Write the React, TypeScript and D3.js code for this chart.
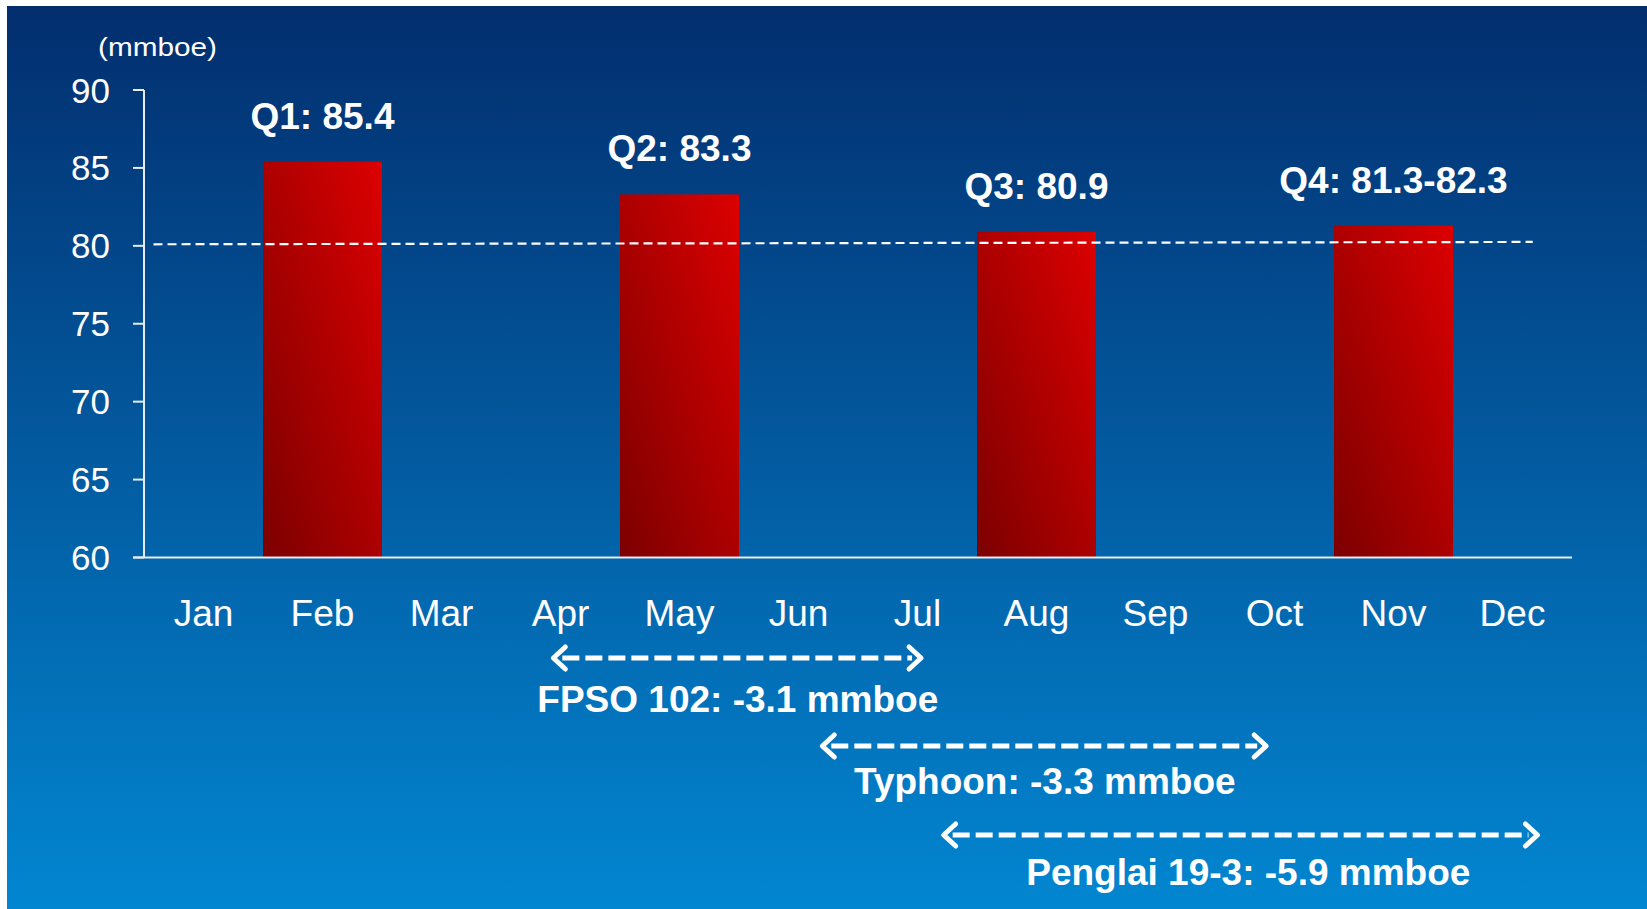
import React from 'react';
import * as d3 from 'd3';

const months = ['Jan', 'Feb', 'Mar', 'Apr', 'May', 'Jun', 'Jul', 'Aug', 'Sep', 'Oct', 'Nov', 'Dec'];
const barMonths = ['Feb', 'May', 'Aug', 'Nov'];
const barValues = [85.4, 83.3, 80.9, 81.3];
const barLabels = ['Q1: 85.4', 'Q2: 83.3', 'Q3: 80.9', 'Q4: 81.3-82.3'];
const yTicks = [60, 65, 70, 75, 80, 85, 90];
const unitLabel = '(mmboe)';

// reference dashed line (value at start, value at end; position in month units)
const refValues = [80.1, 80.25];
const refSpan = [0.08, 11.67];

// impact arrows (month units along the x axis)
const impactLabels = ['FPSO 102: -3.1 mmboe', 'Typhoon: -3.3 mmboe', 'Penglai 19-3: -5.9 mmboe'];
const impactStart = [3.44, 5.7, 6.72];
const impactEnd = [6.53, 9.43, 11.71];
const impactTextCenter = [4.99, 7.57, 9.28];

const W = 1647;
const H = 909;
const plotLeft = 144;
const plotRight = 1572;
const plotTop = 90;
const plotBottom = 557.5;
const arrowRows = [658, 746, 835];
const textRows = [712, 794, 885];
const FONT = '"Liberation Sans", Arial, Helvetica, sans-serif';

export default function App() {
  const x = d3.scaleBand<string>().domain(months).range([plotLeft, plotRight]).padding(0);
  const u = d3.scaleLinear().domain([0, 12]).range([plotLeft, plotRight]);
  const y = d3.scaleLinear().domain([60, 90]).range([plotBottom, plotTop]);
  const axisColor = '#E6ECF3';

  return (
    <svg
      width={W}
      height={H}
      style={{ position: 'absolute', left: 0, top: 0, display: 'block' }}
      fontFamily={FONT}
    >
      <defs>
        <linearGradient id="bg" x1="0" y1="0" x2="0" y2="1">
          <stop offset="0" stopColor="#022E6E" />
          <stop offset="0.45" stopColor="#03569B" />
          <stop offset="1" stopColor="#0286D1" />
        </linearGradient>
        <linearGradient id="barGrad" x1="0" y1="1" x2="1" y2="0">
          <stop offset="0" stopColor="#7C0000" />
          <stop offset="1" stopColor="#DD0000" />
        </linearGradient>
      </defs>
      <rect x={0} y={0} width={W} height={H} fill="#ffffff" />
      <rect x={7} y={6} width={W - 7} height={H - 6} fill="url(#bg)" />

      {/* bars */}
      {barMonths.map((m, i) => (
        <rect
          key={m}
          x={x(m)}
          y={y(barValues[i])}
          width={x.bandwidth()}
          height={plotBottom - y(barValues[i])}
          fill="url(#barGrad)"
        />
      ))}

      {/* reference dashed line */}
      <line
        x1={u(refSpan[0])}
        x2={u(refSpan[1])}
        y1={y(refValues[0])}
        y2={y(refValues[1])}
        stroke="#ffffff"
        strokeWidth={2.2}
        strokeDasharray="9 5"
      />

      {/* axes */}
      <line x1={plotLeft} x2={plotLeft} y1={plotTop} y2={plotBottom} stroke={axisColor} strokeWidth={2} />
      <line x1={plotLeft - 11} x2={plotRight} y1={plotBottom} y2={plotBottom} stroke={axisColor} strokeWidth={2} />
      {yTicks.map((t) => (
        <g key={t}>
          <line x1={plotLeft - 11} x2={plotLeft} y1={y(t)} y2={y(t)} stroke={axisColor} strokeWidth={2} />
          <text x={plotLeft - 34} y={y(t) + 12.5} fill="#ffffff" fontSize={35} textAnchor="end">
            {t}
          </text>
        </g>
      ))}
      {months.map((m) => (
        <text
          key={m}
          x={(x(m) as number) + x.bandwidth() / 2}
          y={626}
          fill="#ffffff"
          fontSize={37}
          textAnchor="middle"
        >
          {m}
        </text>
      ))}
      <text x={98} y={56} fill="#ffffff" fontSize={25} textLength={119} lengthAdjust="spacingAndGlyphs">
        {unitLabel}
      </text>

      {/* bar labels */}
      {barMonths.map((m, i) => (
        <text
          key={m}
          x={(x(m) as number) + x.bandwidth() / 2}
          y={y(barValues[i]) - 33}
          fill="#ffffff"
          fontSize={37}
          fontWeight="bold"
          textAnchor="middle"
        >
          {barLabels[i]}
        </text>
      ))}

      {/* impact arrows */}
      {impactLabels.map((lab, i) => {
        const x1 = u(impactStart[i]);
        const x2 = u(impactEnd[i]);
        const ay = arrowRows[i];
        return (
          <g key={lab}>
            <line
              x1={x1 + 9}
              x2={x2 - 9}
              y1={ay}
              y2={ay}
              stroke="#ffffff"
              strokeWidth={5}
              strokeDasharray="17 6"
            />
            <path
              d={`M${x1 + 12},${ay - 11} L${x1},${ay} L${x1 + 12},${ay + 11}`}
              fill="none"
              stroke="#ffffff"
              strokeWidth={5}
              strokeLinecap="round"
              strokeLinejoin="round"
            />
            <path
              d={`M${x2 - 12},${ay - 11} L${x2},${ay} L${x2 - 12},${ay + 11}`}
              fill="none"
              stroke="#ffffff"
              strokeWidth={5}
              strokeLinecap="round"
              strokeLinejoin="round"
            />
            <text
              x={u(impactTextCenter[i])}
              y={textRows[i]}
              fill="#ffffff"
              fontSize={37}
              fontWeight="bold"
              textAnchor="middle"
            >
              {lab}
            </text>
          </g>
        );
      })}
    </svg>
  );
}
